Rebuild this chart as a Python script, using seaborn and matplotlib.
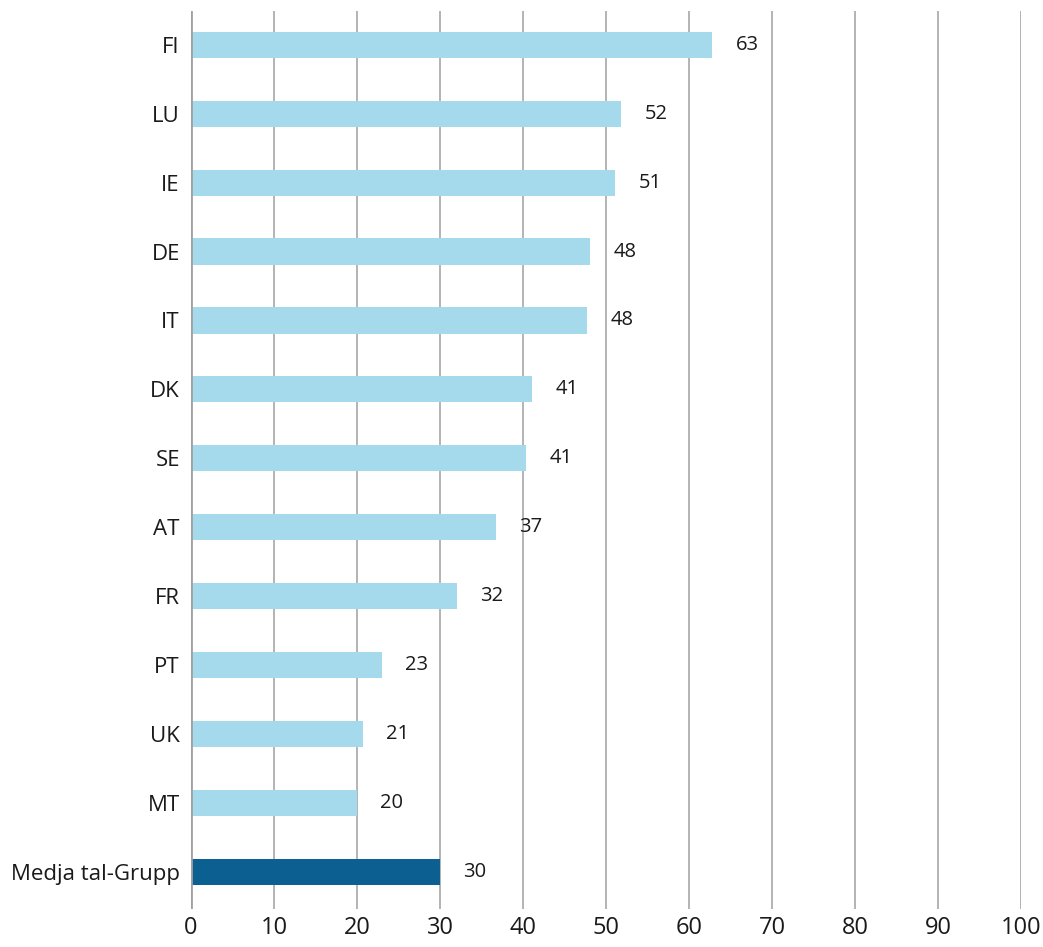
import matplotlib
matplotlib.use("Agg")
import matplotlib.pyplot as plt
import seaborn as sns
import pandas as pd

countries = ["FI", "LU", "IE", "DE", "IT", "DK", "SE", "AT", "FR", "PT", "UK", "MT", "Medja tal-Grupp"]
values = [62.8, 51.8, 51.1, 48.1, 47.7, 41.1, 40.4, 36.7, 32.0, 23.0, 20.7, 20.0, 30.0]
labels = ["63", "52", "51", "48", "48", "41", "41", "37", "32", "23", "21", "20", "30"]

light = "#a5d9ec"
dark = "#0b5f91"

df = pd.DataFrame({"country": countries, "value": values})
colors = [dark if c == "Medja tal-Grupp" else light for c in countries]

sns.set_style("white")
plt.rcParams["font.family"] = ["Open Sans", "DejaVu Sans"]

fig = plt.figure(figsize=(10.43, 9.47), dpi=100)
ax = fig.add_axes([0.1831, 0.0401, 0.7958, 0.9483])

sns.barplot(data=df, x="value", y="country", hue="country", palette=colors,
            legend=False, width=0.38, ax=ax, saturation=1, zorder=3, linewidth=0)

ax.set_xlim(0, 100)
ax.set_ylim(12.54, -0.49)
ax.set_xticks(range(0, 101, 10))
for x in range(10, 101, 10):
    ax.axvline(x, color="#b3b3b3", lw=1.4, zorder=1)
ax.axvline(0, color="#a0a0a0", lw=2, zorder=4)

for i, (v, lab) in enumerate(zip(values, labels)):
    ax.text(v + 4.2, i, lab, ha="center", va="center", fontsize=14.5, color="#1a1a1a")

for s in ax.spines.values():
    s.set_visible(False)
ax.tick_params(axis="x", length=0, pad=5, labelsize=17, labelcolor="#1a1a1a")
ax.tick_params(axis="y", length=0, pad=8, labelsize=16, labelcolor="#1a1a1a")
ax.set_xlabel("")
ax.set_ylabel("")

fig.savefig("out.png", dpi=100)
